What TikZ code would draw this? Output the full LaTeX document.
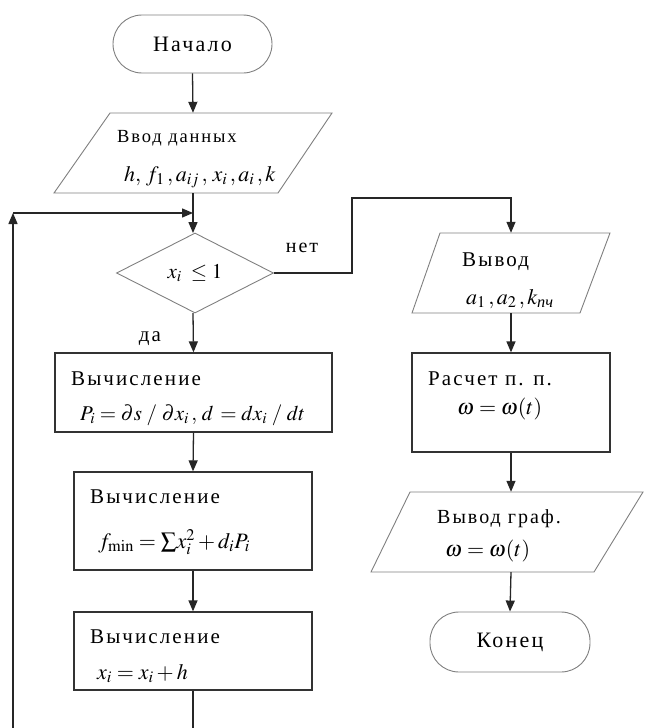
\documentclass[tikz,border=0pt]{standalone}
\usepackage{mathptmx}
\usepackage{amsmath}
\usepackage{fontspec}
\setmainfont{Liberation Serif}
\newfontfamily\wide{Liberation Serif}[LetterSpace=10.0]
\usetikzlibrary{arrows.meta,shapes.geometric}
\tikzset{
  conn/.style={line width=1.3pt, draw=black!85},
  arr/.style={conn, -{Triangle[length=11pt,width=9pt]}},
  procbox/.style={draw=black!80, line width=1.3pt, inner sep=0pt},
  lightline/.style={draw=black!50, line width=0.9pt},
  termbox/.style={lightline, rounded corners=29pt, inner sep=0pt},
  anch/.style={inner sep=0pt, minimum width=1pt},
  txt/.style={inner sep=0pt, anchor=base west, font={\wide\fontsize{21}{25}\selectfont}},
  ctxt/.style={inner sep=0pt, font={\wide\fontsize{21}{25}\selectfont}},
  mth/.style={inner sep=0pt, anchor=base west, font={\fontsize{22}{26}\selectfont}},
}
\begin{document}
\begin{tikzpicture}[x=1pt,y=-1pt]
\useasboundingbox (0,0) rectangle (646,728);
\fill[white] (0,0) rectangle (646,728);

% start
\node[termbox, minimum width=159pt, minimum height=58pt, ctxt, font={\wide\fontsize{22}{26}\selectfont}] (start) at (192.5,44) {Начало};

% input parallelogram
\draw[lightline] (110,113) -- (332,113) -- (278,193) -- (54,193) -- cycle;
\node[anch, minimum height=80pt] (in1) at (193,153) {};
\node[txt, font={\wide\fontsize{18.5}{22}\selectfont}] (in1a) at (117,142) {Ввод данных};
\node[mth] (in1b) at (124,181) {$h,\,f_1\,,a_{ij}\,,\,x_i\,,a_i\,,k$};

% decision
\node[diamond, lightline, aspect=2, minimum width=157pt, minimum height=80pt, inner sep=0pt,
      font={\fontsize{21}{25}\selectfont}] (dia) at (195,273) {$x_i\;\le 1$};
\coordinate (jn) at (193,213);
\node[ctxt, font={\wide\fontsize{20}{24}\selectfont}] (no) at (302,248) {нет};
\node[ctxt, font={\wide\fontsize{21}{25}\selectfont}] (yes) at (150,339) {да};

% box 1
\node[procbox, minimum width=277pt, minimum height=79pt] (b1) at (193.5,392.5) {};
\node[txt] (b1a) at (71,385) {Вычисление};
\node[mth, font={\fontsize{21}{25}\selectfont}] (b1b) at (80,420) {$P_i = \partial s\;/\;\partial x_i\,,\, d\, = dx_i\;/\;dt$};

% box 2
\node[procbox, minimum width=238pt, minimum height=98pt] (b2) at (193,521) {};
\node[txt] (b2a) at (90,503) {Вычисление};
\node[mth] (b2b) at (98,548) {$f_{\mathrm{min}} = {\textstyle\sum} x_i^2 + d_i P_i$};

% box 3
\node[procbox, minimum width=238pt, minimum height=78pt] (b3) at (193,651) {};
\node[txt] (b3a) at (90,643) {Вычисление};
\node[mth] (b3b) at (97,679) {$x_i = x_i + h$};

% right column
\draw[lightline] (440,233) -- (610,233) -- (580,313) -- (412,313) -- cycle;
\node[anch, minimum height=80pt] (out1) at (511,273) {};
\node[txt] (out1a) at (462,266) {Вывод};
\node[mth] (out1b) at (466,304) {$a_1\,,a_2\,,k_{\text{\itshape пч}}$};

\node[procbox, minimum width=198pt, minimum height=99pt] (calc) at (511,402.5) {};
\node[txt] (calca) at (428,385) {Расчет п. п.};
\node[mth] (calcb) at (457,414) {$\omega = \omega(t)$};

\draw[lightline] (410,492) -- (643,492) -- (594,572) -- (371,572) -- cycle;
\node[anch, minimum height=80pt] (out2) at (511,532) {};
\node[txt, font={\wide\fontsize{20}{24}\selectfont}] (out2a) at (437,523) {Вывод граф.};
\node[mth] (out2b) at (445,556) {$\omega = \omega(t)$};

\node[termbox, minimum width=160pt, minimum height=60pt, ctxt, font={\wide\fontsize{22}{26}\selectfont}] (fin) at (510,642) {Конец};

% loop coordinates
\coordinate (lb) at (13,728);
\coordinate (lc) at (13,213);
\coordinate (b3end) at (193,728);
\coordinate (r1) at (352,273);
\coordinate (r2) at (352,198);
\coordinate (r3) at (511,198);

% connectors
\draw[arr] (start.south) -- (in1.north);
\draw[conn] (in1.south) -- (jn);
\draw[arr] (jn) -- (193,233);
\draw[arr] (lb) -- (lc);
\draw[arr] (lc) -- (jn);
\draw[arr] (193,313) -- (b1.north);
\draw[arr] (b1.south) -- (b2.north);
\draw[arr] (b2.south) -- (b3.north);
\draw[conn] (b3.south) -- (b3end);
\draw[arr] (dia.east) -- (r1) -- (r2) -- (r3) -- (out1.north);
\draw[arr] (out1.south) -- (calc.north);
\draw[arr] (calc.south) -- (out2.north);
\draw[arr] (out2.south) -- (fin.north);
\end{tikzpicture}
\end{document}
